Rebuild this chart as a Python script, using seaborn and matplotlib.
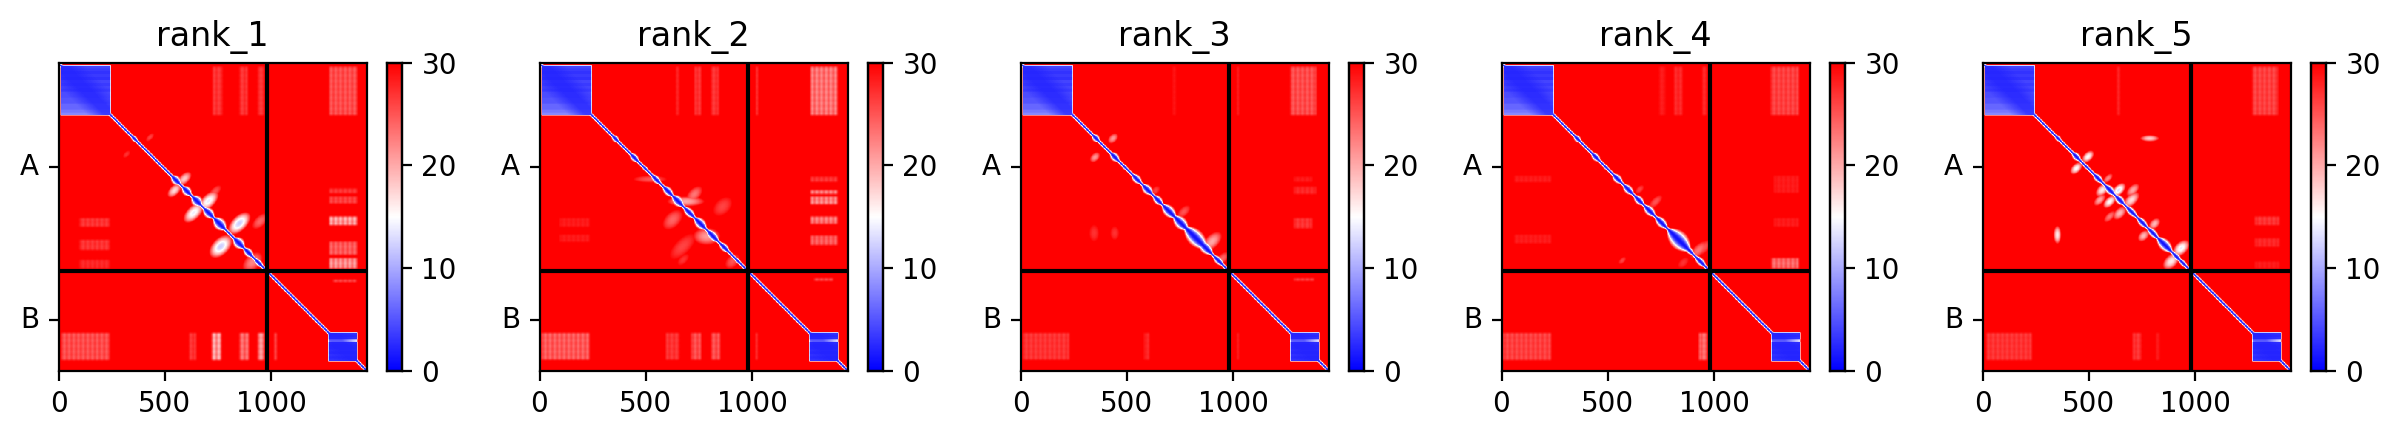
import numpy as np
import matplotlib
matplotlib.use("Agg")
import matplotlib.pyplot as plt
import seaborn as sns

# values, all positions in residues
TITLES = ["rank_1", "rank_2", "rank_3", "rank_4", "rank_5"]
N_RES = 1447
CHAIN_BREAK = 978
X_TICKS = [0, 500, 1000]
Y_TICKS = [489, 1212]
Y_LABELS = ["A", "B"]
CBAR_TICKS = [0, 10, 20, 30]

# domain blocks: start, end and PAE per stretch of rows
BLOCK_A = (10, 247)
BLOCK_A_ROWS = [4, 3.5, 3, 3.5, 3, 4, 3.5, 4, 3.5, 4.5, 4.5, 5, 5, 6, 6, 7, 8]
BLOCK_B = (1268, 1404)
BLOCK_B_ROWS = [3, 2.5, 3, 15, 3, 2.5, 2.5, 3, 2.5, 3, 2.5, 3]

# lobes along the diagonal: centre, half length, half width
RANK_1_LOBES = [(357, 18, 12), (552, 22, 20), (603, 22, 20), (650, 24, 24), (706, 26, 22),
                (758, 30, 26), (848, 26, 24), (893, 24, 18), (940, 26, 14)]
RANK_2_LOBES = [(357, 18, 14), (446, 22, 16), (496, 18, 10), (548, 24, 16), (604, 26, 18), (650, 28, 22),
                (704, 28, 18), (756, 30, 22), (814, 30, 20), (868, 26, 16), (931, 24, 10)]
RANK_3_LOBES = [(354, 18, 16), (443, 22, 18), (490, 18, 10), (546, 24, 18), (596, 26, 20), (646, 24, 18),
                (698, 34, 24), (753, 36, 26), (823, 56, 34), (870, 34, 24), (930, 26, 16)]
RANK_4_LOBES = [(357, 18, 14), (443, 22, 16), (490, 18, 10), (545, 24, 18), (596, 26, 18), (646, 24, 18),
                (696, 28, 20), (751, 30, 20), (834, 56, 38), (881, 26, 14), (935, 28, 16)]
RANK_5_LOBES = [(355, 16, 12), (441, 22, 16), (488, 18, 10), (543, 24, 16), (598, 26, 18), (645, 24, 18),
                (700, 30, 16), (751, 28, 16), (801, 30, 16), (856, 38, 24), (911, 24, 14), (942, 26, 12)]

# striped rectangles: x0, x1, y0, y1, PAE
RANK_1_PATCHES = [(1272, 1405, 16, 245, 24), (725, 770, 16, 245, 26), (850, 889, 16, 245, 26),
                  (936, 967, 16, 245, 26), (12, 240, 1270, 1399, 24), (615, 646, 1270, 1399, 26),
                  (720, 764, 1270, 1399, 18), (850, 894, 1270, 1399, 22), (936, 967, 1270, 1399, 19),
                  (1014, 1027, 1270, 1399, 25), (1272, 1405, 723, 762, 18), (1272, 1405, 840, 903, 23),
                  (1272, 1405, 919, 966, 19), (1272, 1405, 629, 660, 25), (1272, 1405, 590, 613, 26),
                  (98, 240, 731, 770, 26), (98, 240, 833, 880, 26), (98, 240, 926, 966, 27),
                  (1290, 1400, 1020, 1030, 24)]
RANK_2_PATCHES = [(642, 657, 16, 245, 27), (728, 759, 16, 245, 26), (806, 842, 16, 245, 26),
                  (1018, 1026, 16, 245, 25), (1275, 1400, 16, 245, 21), (8, 235, 1270, 1396, 23),
                  (595, 657, 1270, 1396, 26), (712, 759, 1270, 1396, 24), (806, 848, 1270, 1396, 24),
                  (1017, 1025, 1270, 1396, 26), (1275, 1400, 535, 559, 26), (1275, 1400, 598, 617, 21),
                  (1275, 1400, 629, 664, 20), (1275, 1400, 723, 757, 21), (1275, 1400, 812, 856, 23),
                  (94, 235, 731, 770, 28), (94, 235, 809, 840, 28), (1290, 1380, 1015, 1025, 24)]
RANK_3_PATCHES = [(1269, 1390, 16, 245, 24), (714, 729, 16, 245, 28), (1018, 1026, 16, 245, 27),
                  (10, 228, 1270, 1396, 26), (580, 604, 1270, 1396, 27), (1018, 1026, 1270, 1396, 27),
                  (1285, 1370, 535, 559, 28), (1285, 1390, 582, 617, 27), (1285, 1370, 731, 778, 26),
                  (1285, 1380, 1015, 1025, 25)]
RANK_4_PATCHES = [(1264, 1397, 16, 245, 25), (811, 850, 16, 245, 27), (740, 771, 16, 245, 28),
                  (944, 964, 16, 245, 27), (5, 232, 1270, 1399, 25), (928, 967, 1270, 1399, 22),
                  (1268, 1397, 919, 966, 22), (1280, 1397, 530, 610, 28), (1280, 1397, 731, 770, 28),
                  (60, 232, 809, 848, 28), (60, 232, 530, 560, 28)]
RANK_5_PATCHES = [(1268, 1388, 16, 245, 25), (630, 645, 16, 245, 27), (19, 230, 1270, 1399, 26),
                  (707, 746, 1270, 1399, 26), (817, 833, 1270, 1399, 28), (1280, 1395, 723, 762, 26),
                  (1280, 1395, 825, 865, 27), (1280, 1395, 935, 966, 28)]

# soft off-diagonal spots: centre x, centre y, radius x, radius y, PAE
RANK_1_SPOTS = [(545, 600, 26, 22, 17), (592, 545, 26, 22, 18), (635, 705, 38, 30, 14), (705, 650, 38, 30, 14),
                (850, 755, 42, 34, 12), (763, 864, 42, 38, 12), (736, 605, 18, 24, 25), (948, 745, 24, 30, 24),
                (912, 938, 36, 34, 22), (430, 350, 12, 16, 26), (320, 430, 14, 12, 27)]
RANK_2_SPOTS = [(520, 547, 68, 14, 25), (688, 652, 74, 20, 20), (728, 618, 26, 30, 23), (626, 738, 36, 34, 24),
                (786, 816, 54, 34, 21), (673, 864, 50, 34, 26), (861, 676, 34, 34, 26), (676, 926, 22, 18, 27),
                (907, 934, 26, 26, 25)]
RANK_3_SPOTS = [(435, 355, 18, 18, 21), (350, 444, 18, 18, 21), (346, 801, 20, 34, 27), (443, 801, 18, 28, 27),
                (901, 840, 30, 36, 20), (768, 700, 24, 20, 25), (635, 600, 16, 16, 26), (950, 920, 20, 24, 24)]
RANK_4_SPOTS = [(928, 880, 24, 34, 23), (725, 653, 26, 18, 25), (568, 930, 14, 12, 26), (650, 595, 16, 14, 26),
                (950, 870, 22, 30, 25), (855, 940, 20, 18, 27)]
RANK_5_SPOTS = [(496, 441, 22, 20, 15), (441, 496, 22, 20, 15), (786, 355, 38, 13, 18), (563, 598, 24, 22, 16),
                (640, 598, 26, 22, 13), (551, 645, 22, 18, 20), (598, 653, 24, 20, 15), (700, 645, 30, 24, 17),
                (707, 598, 24, 20, 20), (645, 707, 24, 22, 19), (598, 723, 16, 22, 23), (352, 809, 15, 36, 16),
                (809, 757, 20, 20, 19), (757, 814, 20, 20, 19), (934, 872, 28, 30, 14), (887, 934, 30, 28, 16),
                (590, 543, 18, 14, 22)]

LOBES = [RANK_1_LOBES, RANK_2_LOBES, RANK_3_LOBES, RANK_4_LOBES, RANK_5_LOBES]
PATCHES = [RANK_1_PATCHES, RANK_2_PATCHES, RANK_3_PATCHES, RANK_4_PATCHES, RANK_5_PATCHES]
SPOTS = [RANK_1_SPOTS, RANK_2_SPOTS, RANK_3_SPOTS, RANK_4_SPOTS, RANK_5_SPOTS]

STEP = 2
BASE_HALF_WIDTH = 8


def soften(mat, size):
    kernel = np.ones(size) / size
    pad = size
    out = np.pad(mat, pad, mode="edge")
    out = np.apply_along_axis(np.convolve, 0, out, kernel, mode="same")
    out = np.apply_along_axis(np.convolve, 1, out, kernel, mode="same")
    return out[pad:-pad, pad:-pad]


def build_matrix(lobes, patches, spots):
    res = np.arange(0, N_RES, STEP) + STEP / 2
    xx, yy = np.meshgrid(res, res)
    mat = np.full(xx.shape, 30.0)

    for x0, x1, y0, y1, val in patches:
        inside = (xx >= x0) & (xx < x1) & (yy >= y0) & (yy < y1)
        # the faint bars seen inside these regions
        bars = 0.4 * (np.floor(xx / 11) % 2) + 0.1 * (np.floor(yy / 13) % 2)
        cell = val + (30 - val) * bars
        mat[inside] = np.minimum(mat, cell)[inside]
    mat = soften(mat, 6)

    for cx, cy, rx, ry, val in spots:
        dx, dy = xx - cx, yy - cy
        big, small = max(rx, ry), min(rx, ry)
        if big / small < 1.5:
            # leaf shapes lie across the diagonal
            a, b = (dx - dy) / np.sqrt(2), (dx + dy) / np.sqrt(2)
            r2 = (a / (1.6 * big)) ** 2 + (b / (1.05 * small)) ** 2
        else:
            r2 = (dx / (1.2 * rx)) ** 2 + (dy / (1.2 * ry)) ** 2
        mat = np.minimum(mat, 30 - (30 - val) * np.clip(1 - r2, 0, 1))

    # band along the diagonal
    centre = (xx + yy) / 2
    dist = np.abs(xx - yy)
    half = np.full(xx.shape, float(BASE_HALF_WIDTH))
    for c, length, width in lobes:
        half = np.maximum(half, width * (1 - ((centre - c) / length) ** 2))
    band = np.where(dist < half, 1 + 14 * (dist / half) ** 2, 15 + 22 * (dist - half) / half)
    band[centre < 8] = 30
    mat = np.minimum(mat, band)

    # domain blocks
    for (start, end), rows in ((BLOCK_A, BLOCK_A_ROWS), (BLOCK_B, BLOCK_B_ROWS)):
        inside = (xx >= start) & (xx < end) & (yy >= start) & (yy < end)
        idx = ((yy - start) / (end - start) * len(rows)).astype(int).clip(0, len(rows) - 1)
        vals = np.array(rows)[idx]
        # rows stay darker close to the diagonal
        vals = 2 + (vals - 2) * np.clip(dist / 110, 0.25, 1)
        mat[inside] = vals[inside]
    return soften(mat, 3)


plt.rcParams["font.family"] = "DejaVu Sans"
W, H = 2401, 438
fig = plt.figure(figsize=(W / 200, H / 200), dpi=200)

AX_LEFT = [58.5, 539.5, 1020.5, 1501.5, 1982.5]
for k, title in enumerate(TITLES):
    ax = fig.add_axes([AX_LEFT[k] / W, 67.5 / H, 308 / W, 307.5 / H])
    cax = fig.add_axes([(AX_LEFT[k] + 328) / W, 67.5 / H, 15.5 / W, 307.5 / H])
    mat = build_matrix(LOBES[k], PATCHES[k], SPOTS[k])
    sns.heatmap(mat, cmap="bwr", vmin=0, vmax=30, ax=ax, cbar_ax=cax,
                cbar_kws={"ticks": CBAR_TICKS}, rasterized=True)
    ax.axhline(CHAIN_BREAK / STEP, color="black", lw=1.5)
    ax.axvline(CHAIN_BREAK / STEP, color="black", lw=1.5)
    ax.set_xticks([t / STEP for t in X_TICKS])
    ax.set_xticklabels([str(t) for t in X_TICKS], rotation=0)
    ax.set_yticks([t / STEP for t in Y_TICKS])
    ax.set_yticklabels(Y_LABELS, rotation=0)
    ax.set_title(title, fontsize=12)
    for spine in ax.spines.values():
        spine.set_visible(True)
        spine.set_linewidth(0.8)
    cax.tick_params(labelsize=10, length=3.5, width=0.8)
    for spine in cax.spines.values():
        spine.set_visible(True)
        spine.set_linewidth(0.8)

fig.savefig("out.png", dpi=200)
